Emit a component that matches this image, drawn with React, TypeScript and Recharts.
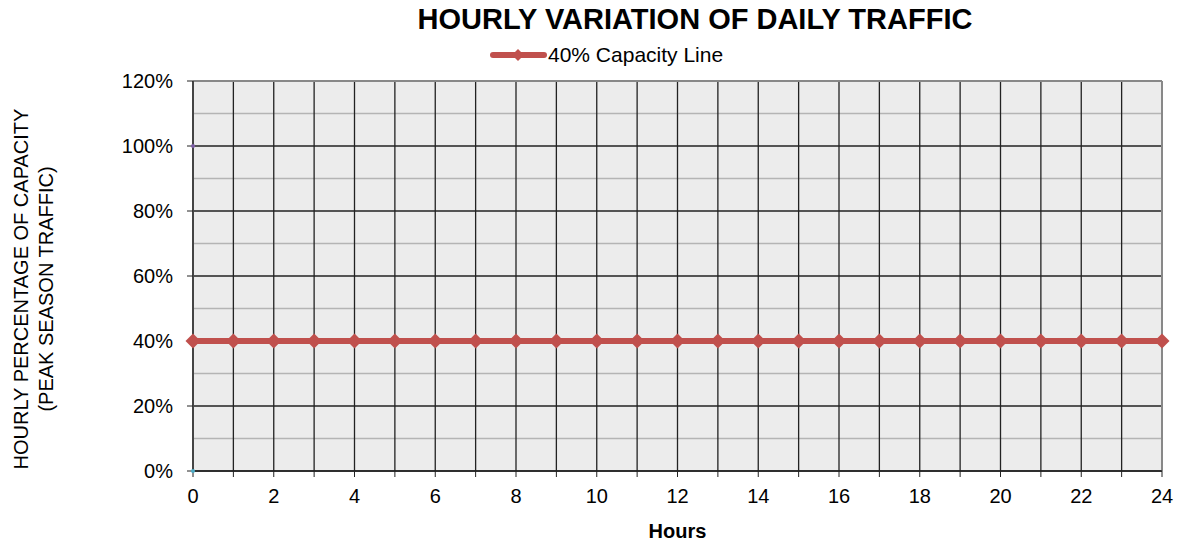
import React from "react"
import {
  LineChart, Line, XAxis, YAxis, CartesianGrid, ReferenceLine, Label,
} from "recharts"

const HOURS = Array.from({ length: 25 }, (_, i) => i)
const CAPACITY_40 = [40, 40, 40, 40, 40, 40, 40, 40, 40, 40, 40, 40, 40, 40, 40, 40, 40, 40, 40, 40, 40, 40, 40, 40, 40]
const X_TICKS = HOURS
const Y_TICKS = [0, 20, 40, 60, 80, 100, 120]
const Y_MINOR = [10, 30, 50, 70, 90, 110]
const UPPER_POINT = [{ hour: 0, value: 100 }]
const LOWER_POINT = [{ hour: 0, value: 0 }]

const data = HOURS.map((h, i) => ({ hour: h, cap: CAPACITY_40[i] }))

const FONT = "'Liberation Sans', Arial, sans-serif"
const RED = "#c0504d"

function Diamond(props: any) {
  const { cx, cy } = props
  if (cx == null || cy == null) return null
  const s = 7.5
  return <path d={`M${cx},${cy - s}L${cx + s},${cy}L${cx},${cy + s}L${cx - s},${cy}Z`} fill={RED} />
}

function YTitle() {
  const cy = 289
  return (
    <g fontFamily={FONT} fontSize={20} fill="#000">
      <text x={21} y={cy} transform={`rotate(-90 21 ${cy})`} textAnchor="middle" dominantBaseline="central">
        HOURLY PERCENTAGE OF CAPACITY
      </text>
      <text x={46} y={cy} transform={`rotate(-90 46 ${cy})`} textAnchor="middle" dominantBaseline="central">
        (PEAK SEASON TRAFFIC)
      </text>
    </g>
  )
}

export default function App() {
  return (
    <div style={{ position: "absolute", left: 0, top: 0, width: 1179, height: 542, background: "#fff", fontFamily: FONT }}>
      <svg width={1179} height={542} style={{ position: "absolute", left: 0, top: 0 }}>
        <text x={695} y={29} textAnchor="middle" fontSize={29} fontWeight={700} fontFamily={FONT}>
          HOURLY VARIATION OF DAILY TRAFFIC
        </text>
        <line x1={493} y1={55} x2={544} y2={55} stroke={RED} strokeWidth={6} strokeLinecap="round" />
        <path d="M518,49L524,55L518,61L512,55Z" fill={RED} />
        <text x={548} y={62} fontSize={21} fontFamily={FONT}>40% Capacity Line</text>
      </svg>
      <div style={{ position: "absolute", left: 0, top: 0 }}>
        <LineChart width={1179} height={542} data={data} margin={{ top: 81, right: 17, bottom: 0, left: 0 }}>
          <CartesianGrid
            fill="#ececec"
            fillOpacity={1}
            vertical={false}
            horizontalValues={Y_MINOR}
            stroke="#b4b4b4"
            strokeWidth={1.5}
          />
          <CartesianGrid
            horizontalValues={Y_TICKS}
            verticalValues={HOURS}
            stroke="#222"
            strokeWidth={1.3}
          />
          <XAxis
            dataKey="hour"
            type="number"
            domain={[0, 24]}
            ticks={X_TICKS}
            interval={0}
            tickFormatter={(v: number) => (v % 2 === 0 ? String(v) : "")}
            height={71}
            axisLine={{ stroke: "#222", strokeWidth: 1.5 }}
            tickLine={{ stroke: "#222" }}
            tickSize={6}
            tickMargin={12}
            tick={{ fontSize: 20, fill: "#000", fontFamily: FONT }}
          >
            <Label value="Hours" position="insideBottom" offset={4} style={{ fontSize: 20, fontWeight: 700, fill: "#000", fontFamily: FONT }} />
          </XAxis>
          <YAxis
            type="number"
            domain={[0, 120]}
            ticks={Y_TICKS}
            interval={0}
            tickFormatter={(v: number) => `${v}%`}
            width={193}
            axisLine={{ stroke: "#444", strokeWidth: 2 }}
            tickLine={{ stroke: "#222" }}
            tickSize={6}
            tickMargin={14}
            tick={{ fontSize: 20, fill: "#000", fontFamily: FONT }}
          >
            <Label content={<YTitle />} />
          </YAxis>
          <ReferenceLine x={24} stroke="#888" strokeWidth={2} />
          <ReferenceLine y={120} stroke="#888" strokeWidth={2} />
          <Line
            dataKey="cap"
            stroke={RED}
            strokeWidth={6}
            dot={<Diamond />}
            activeDot={false}
            isAnimationActive={false}
            legendType="none"
          />
          <Line
            data={UPPER_POINT}
            dataKey="value"
            stroke="none"
            dot={{ r: 2, fill: "#7f60a8", stroke: "none" }}
            isAnimationActive={false}
          />
          <Line
            data={LOWER_POINT}
            dataKey="value"
            stroke="none"
            dot={{ r: 2, fill: "#4bacc6", stroke: "none" }}
            isAnimationActive={false}
          />
        </LineChart>
      </div>
    </div>
  )
}
